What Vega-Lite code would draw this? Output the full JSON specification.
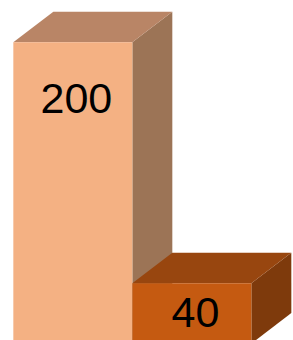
{
  "$schema": "https://vega.github.io/schema/vega-lite/v6.json",
  "width": 293,
  "height": 340,
  "padding": 0,
  "autosize": {"type": "fit", "contains": "padding"},
  "config": {"view": {"stroke": null}},
  "datasets": {
    "bars": [
      {"name": "A", "value": 200, "start": 0, "end": 1, "base": 0, "labelX": 0.53, "labelAt": 153},
      {"name": "B", "value": 40, "start": 1, "end": 2, "base": 0, "labelX": 1.53, "labelAt": 11}
    ],
    "faces": [
      {"name": "A", "face": "side", "u": 1, "lo": 0, "hi": 200},
      {"name": "A", "face": "side", "u": 1.336, "lo": 20.3, "hi": 220.3},
      {"name": "A", "face": "top", "u": 0, "lo": 200, "hi": 200},
      {"name": "A", "face": "top", "u": 0.336, "lo": 200, "hi": 220.3},
      {"name": "A", "face": "top", "u": 1, "lo": 200, "hi": 220.3},
      {"name": "A", "face": "top", "u": 1.336, "lo": 220.3, "hi": 220.3},
      {"name": "B", "face": "side", "u": 2, "lo": 0, "hi": 40},
      {"name": "B", "face": "side", "u": 2.336, "lo": 20.3, "hi": 60.3},
      {"name": "B", "face": "top", "u": 1, "lo": 40, "hi": 40},
      {"name": "B", "face": "top", "u": 1.336, "lo": 40, "hi": 60.3},
      {"name": "B", "face": "top", "u": 2, "lo": 40, "hi": 60.3},
      {"name": "B", "face": "top", "u": 2.336, "lo": 60.3, "hi": 60.3}
    ]
  },
  "layer": [
    {
      "data": {"name": "faces"},
      "transform": [{"filter": "datum.name === 'A' && datum.face === 'side'"}],
      "mark": {"type": "area", "orient": "vertical", "color": "#9C7456", "clip": true},
      "encoding": {
        "x": {"field": "u", "type": "quantitative", "scale": {"domain": [-0.112, 2.35], "nice": false, "zero": false}, "axis": null},
        "y": {"field": "hi", "type": "quantitative", "scale": {"domain": [2.4, 228.1], "nice": false, "zero": false}, "axis": null},
        "y2": {"field": "lo"}
      }
    },
    {
      "data": {"name": "faces"},
      "transform": [{"filter": "datum.name === 'A' && datum.face === 'top'"}],
      "mark": {"type": "area", "orient": "vertical", "color": "#B98566", "clip": true},
      "encoding": {
        "x": {"field": "u", "type": "quantitative"},
        "y": {"field": "hi", "type": "quantitative"},
        "y2": {"field": "lo"}
      }
    },
    {
      "data": {"name": "bars"},
      "transform": [{"filter": "datum.name === 'A'"}],
      "mark": {"type": "rect", "color": "#F4B183", "clip": true},
      "encoding": {
        "x": {"field": "start", "type": "quantitative"},
        "x2": {"field": "end"},
        "y": {"field": "value", "type": "quantitative"},
        "y2": {"field": "base"}
      }
    },
    {
      "data": {"name": "faces"},
      "transform": [{"filter": "datum.name === 'B' && datum.face === 'side'"}],
      "mark": {"type": "area", "orient": "vertical", "color": "#7E3A0C", "clip": true},
      "encoding": {
        "x": {"field": "u", "type": "quantitative"},
        "y": {"field": "hi", "type": "quantitative"},
        "y2": {"field": "lo"}
      }
    },
    {
      "data": {"name": "faces"},
      "transform": [{"filter": "datum.name === 'B' && datum.face === 'top'"}],
      "mark": {"type": "area", "orient": "vertical", "color": "#98460F", "clip": true},
      "encoding": {
        "x": {"field": "u", "type": "quantitative"},
        "y": {"field": "hi", "type": "quantitative"},
        "y2": {"field": "lo"}
      }
    },
    {
      "data": {"name": "bars"},
      "transform": [{"filter": "datum.name === 'B'"}],
      "mark": {"type": "rect", "color": "#C55A11", "clip": true},
      "encoding": {
        "x": {"field": "start", "type": "quantitative"},
        "x2": {"field": "end"},
        "y": {"field": "value", "type": "quantitative"},
        "y2": {"field": "base"}
      }
    },
    {
      "data": {"name": "bars"},
      "mark": {"type": "text", "font": "Liberation Sans", "fontSize": 43, "align": "center", "baseline": "alphabetic", "color": "#000000", "clip": true},
      "encoding": {
        "x": {"field": "labelX", "type": "quantitative"},
        "y": {"field": "labelAt", "type": "quantitative"},
        "text": {"field": "value", "type": "nominal"}
      }
    }
  ]
}
